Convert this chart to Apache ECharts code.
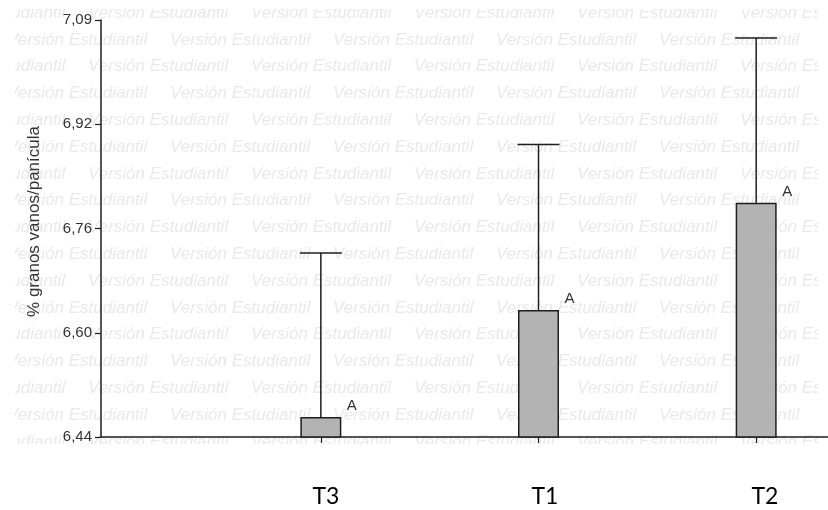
<!DOCTYPE html>
<html>
<head>
<meta charset="utf-8">
<script src="https://cdn.jsdelivr.net/npm/echarts@6/dist/echarts.min.js"></script>
<style>
html,body{margin:0;padding:0;background:#fff;}
#chart{width:828px;height:510px;}
</style>
</head>
<body>
<div id="chart"></div>
<script>
const categories = ['T3', 'T1', 'T2'];
const means = [6.471, 6.638, 6.805];
const upperErr = [6.727, 6.896, 7.062];
const groupLetters = ['A', 'A', 'A'];
const yTicks = [6.44, 6.6025, 6.765, 6.9275, 7.09];
const yTickLabels = ['6,44', '6,60', '6,76', '6,92', '7,09'];
const yTitle = '% granos vanos/panícula';
const watermarkText = 'Versión Estudiantil';

const chart = echarts.init(document.getElementById('chart'), null, {renderer: 'canvas'});
const AX = '#1e1e1e';
const FONT = '"Liberation Sans", Arial, sans-serif';

// watermark
const wm = [];
for (let r = 0; r < 17; r++) {
  const y = 13 + r * 26.8;
  const start = (r % 2 === 0) ? 88 - 163 : 7;
  for (let x = start; x < 828; x += 163) {
    wm.push({
      type: 'text', z: -10, silent: true,
      x: x, y: y,
      style: {text: watermarkText, font: 'italic 17px ' + FONT, fill: '#e9e9e9',
              textAlign: 'left', textVerticalAlign: 'middle'}
    });
  }
}
const masks = [
  {type: 'rect', z: -5, silent: true, shape: {x: 0, y: 0, width: 15, height: 510}, style: {fill: '#fff'}},
  {type: 'rect', z: -5, silent: true, shape: {x: 818, y: 0, width: 20, height: 510}, style: {fill: '#fff'}},
  {type: 'rect', z: -5, silent: true, shape: {x: 0, y: 0, width: 828, height: 9}, style: {fill: '#fff'}},
  {type: 'rect', z: -5, silent: true, shape: {x: 0, y: 444, width: 828, height: 70}, style: {fill: '#fff'}}
];
const xLabelPos = [326, 545, 765];
const xLabels = categories.map((c, i) => ({
  type: 'text', z: 10, x: xLabelPos[i], y: 497,
  style: {text: c, font: '23px Lato, "Open Sans", sans-serif', fill: '#000',
          textAlign: 'center', textVerticalAlign: 'middle'}
}));

function nearestLabel(v) {
  let best = 0;
  for (let i = 1; i < yTicks.length; i++) {
    if (Math.abs(yTicks[i] - v) < Math.abs(yTicks[best] - v)) best = i;
  }
  return yTickLabels[best];
}

const option = {
  animation: false,
  backgroundColor: '#fff',
  graphic: wm.concat(masks, xLabels),
  grid: {left: 101, right: 0, top: 20, bottom: 73, containLabel: false},
  xAxis: {
    type: 'value', min: -0.01, max: 3.33,
    axisLine: {show: true, onZero: false, lineStyle: {color: AX, width: 1.5}},
    axisTick: {show: true, customValues: [1, 2, 3], length: 6, lineStyle: {color: AX, width: 1.2}},
    axisLabel: {show: false},
    splitLine: {show: false}
  },
  yAxis: {
    type: 'value', min: yTicks[0], max: yTicks[yTicks.length - 1],
    name: yTitle, nameLocation: 'middle', nameGap: 58,
    nameTextStyle: {fontFamily: FONT, fontSize: 17, color: '#333', padding: [0, 0, 0, 14]},
    axisLine: {show: true, onZero: false, lineStyle: {color: AX, width: 1.5}},
    axisTick: {show: true, customValues: yTicks, length: 6, lineStyle: {color: AX, width: 1.2}},
    axisLabel: {show: true, customValues: yTicks, margin: 9, fontFamily: FONT, fontSize: 15, color: '#333',
                formatter: v => nearestLabel(v)},
    splitLine: {show: false}
  },
  series: [
    {
      type: 'bar',
      barWidth: 41,
      clip: true,
      data: categories.map((c, i) => [i + 1, means[i]]),
      itemStyle: {color: '#b3b3b3', borderColor: AX, borderWidth: 1.5},
      z: 3
    },
    {
      type: 'custom',
      z: 4,
      data: categories.map((c, i) => [i + 1, means[i], upperErr[i]]),
      renderItem: function (params, api) {
        const idx = params.dataIndex;
        const p0 = api.coord([api.value(0), api.value(1)]);
        const p1 = api.coord([api.value(0), api.value(2)]);
        const half = 21;
        return {
          type: 'group',
          children: [
            {type: 'line', shape: {x1: p0[0], y1: p0[1], x2: p1[0], y2: p1[1]},
             style: {stroke: AX, lineWidth: 1.5}},
            {type: 'line', shape: {x1: p1[0] - half, y1: p1[1], x2: p1[0] + half, y2: p1[1]},
             style: {stroke: AX, lineWidth: 1.5}},
            {type: 'text', x: p0[0] + 31, y: p0[1] - 11,
             style: {text: groupLetters[idx], font: '15px ' + FONT, fill: '#333',
                     textAlign: 'center', textVerticalAlign: 'middle'}}
          ]
        };
      }
    }
  ]
};
chart.setOption(option);
</script>
</body>
</html>
